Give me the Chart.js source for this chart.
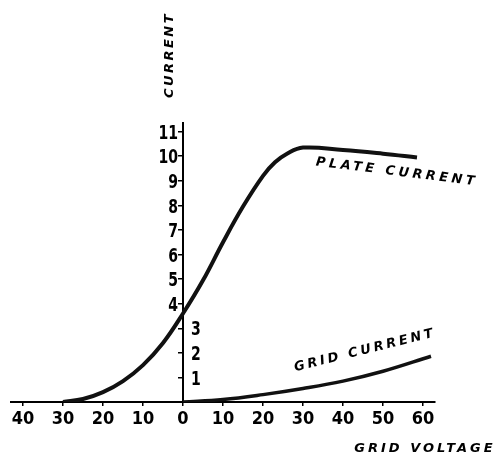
<!DOCTYPE html>
<html>
<head>
<meta charset="utf-8">
<script src="https://cdn.jsdelivr.net/npm/chart.js@4.4.1/dist/chart.umd.min.js"></script>
<style>
    body { margin: 0; background: #fff; }
    #wrap { width: 503px; height: 462px; }
</style>
</head>
<body>
<div id="wrap"><canvas id="tubeChart"></canvas></div>
<script>
// grid voltage (negative = left of zero) and currents
const plateVolts = [-30, -25, -20, -15, -10, -5, 0, 5, 10, 15, 20, 23, 26, 30, 40, 50, 58.5]
const plateCurrent = [0, 0.12, 0.4, 0.85, 1.5, 2.4, 3.6, 4.95, 6.5, 7.95, 9.2, 9.75, 10.1, 10.35, 10.25, 10.1, 9.95]
const gridVolts = [0, 10, 20, 30, 40, 50, 62]
const gridCurrent = [0, 0.1, 0.3, 0.55, 0.85, 1.25, 1.86]

const xTicks = [-40, -30, -20, -10, 0, 10, 20, 30, 40, 50, 60]
const yLeftTicks = [4, 5, 6, 7, 8, 9, 10, 11] // drawn left of the axis
const yRightTicks = [1, 2, 3] // drawn right of the axis

const tickFont = '"DejaVu Sans Condensed", sans-serif'
const titleFont = 'italic bold 13px "DejaVu Sans", sans-serif'

function toPoints(xs, ys) {
    return xs.map((x, i) => ({ x: x, y: ys[i] }))
}

// draws spaced out hand-lettering style text, optionally rotated
function drawLabel(ctx, text, x, y, angle, spacing) {
    ctx.save()
    ctx.translate(x, y)
    ctx.rotate(angle * Math.PI / 180)
    ctx.font = titleFont
    ctx.letterSpacing = spacing + "px"
    ctx.fillStyle = "#000"
    ctx.textAlign = "center"
    ctx.textBaseline = "middle"
    ctx.fillText(text, 0, 0)
    ctx.restore()
}

// narrow tall digits, like the hand drawn numbers
function drawDigits(ctx, text, x, y, align) {
    ctx.save()
    ctx.translate(x, y)
    ctx.scale(0.78, 1)
    ctx.textAlign = align
    ctx.fillText(text, 0, 0)
    ctx.restore()
}

// y tick numbers sit on both sides of the axis, and the titles are free text
const labelPlugin = {
    id: "labels",
    afterDraw(chart) {
        let ctx = chart.ctx
        let xs = chart.scales.x
        let ys = chart.scales.y
        let x0 = xs.getPixelForValue(0)

        ctx.save()
        ctx.fillStyle = "#000"
        ctx.font = "bold 20px " + tickFont
        ctx.textBaseline = "middle"
        yLeftTicks.forEach(v => drawDigits(ctx, v, x0 - 5, ys.getPixelForValue(v) + 2, "right"))
        yRightTicks.forEach(v => drawDigits(ctx, v, x0 + 8, ys.getPixelForValue(v) + 2, "left"))
        ctx.restore()

        drawLabel(ctx, "CURRENT", x0 - 13, 55, -90, 2.5)
        drawLabel(ctx, "GRID VOLTAGE", 425, 449, 0, 3)
        drawLabel(ctx, "PLATE CURRENT", xs.getPixelForValue(53.5), ys.getPixelForValue(9.35), 7, 3.5)
        drawLabel(ctx, "GRID CURRENT", xs.getPixelForValue(45.5), ys.getPixelForValue(2.1), -14, 3)
    }
}

let tubeChart = new Chart("tubeChart", {
    type: "scatter",
    data: {
        datasets: [{
            label: "Plate current",
            data: toPoints(plateVolts, plateCurrent),
            showLine: true,
            borderColor: "#111",
            borderWidth: 4,
            pointRadius: 0,
            tension: 0.4
        }, {
            label: "Grid current",
            data: toPoints(gridVolts, gridCurrent),
            showLine: true,
            borderColor: "#111",
            borderWidth: 3.5,
            pointRadius: 0,
            tension: 0.4
        }]
    },
    options: {
        responsive: true,
        maintainAspectRatio: false,
        animation: false,
        layout: {
            padding: { left: 11, right: 68, top: 123, bottom: 0 }
        },
        plugins: {
            legend: { display: false },
            tooltip: { enabled: false }
        },
        scales: {
            x: {
                type: "linear",
                min: -43,
                max: 63,
                afterBuildTicks: (scale) => { scale.ticks = xTicks.map(v => ({ value: v })) },
                afterFit: (scale) => { scale.height = 60 },
                border: { color: "#000", width: 2 },
                grid: { drawOnChartArea: false, color: "#000", lineWidth: 1.5, tickLength: 4 },
                ticks: {
                    color: "#000",
                    padding: 3,
                    maxRotation: 0,
                    font: { family: tickFont, size: 18, weight: "bold" },
                    callback: (v) => Math.abs(v) // both sides count up from zero
                }
            },
            y: {
                type: "linear",
                position: { x: 0 },
                min: 0,
                max: 11.35,
                afterBuildTicks: (scale) => { scale.ticks = yRightTicks.concat(yLeftTicks).map(v => ({ value: v })) },
                border: { color: "#000", width: 2 },
                grid: { drawOnChartArea: false, color: "#000", lineWidth: 1.5, tickLength: 4 },
                ticks: { display: false }
            }
        }
    },
    plugins: [labelPlugin]
})
</script>
</body>
</html>
